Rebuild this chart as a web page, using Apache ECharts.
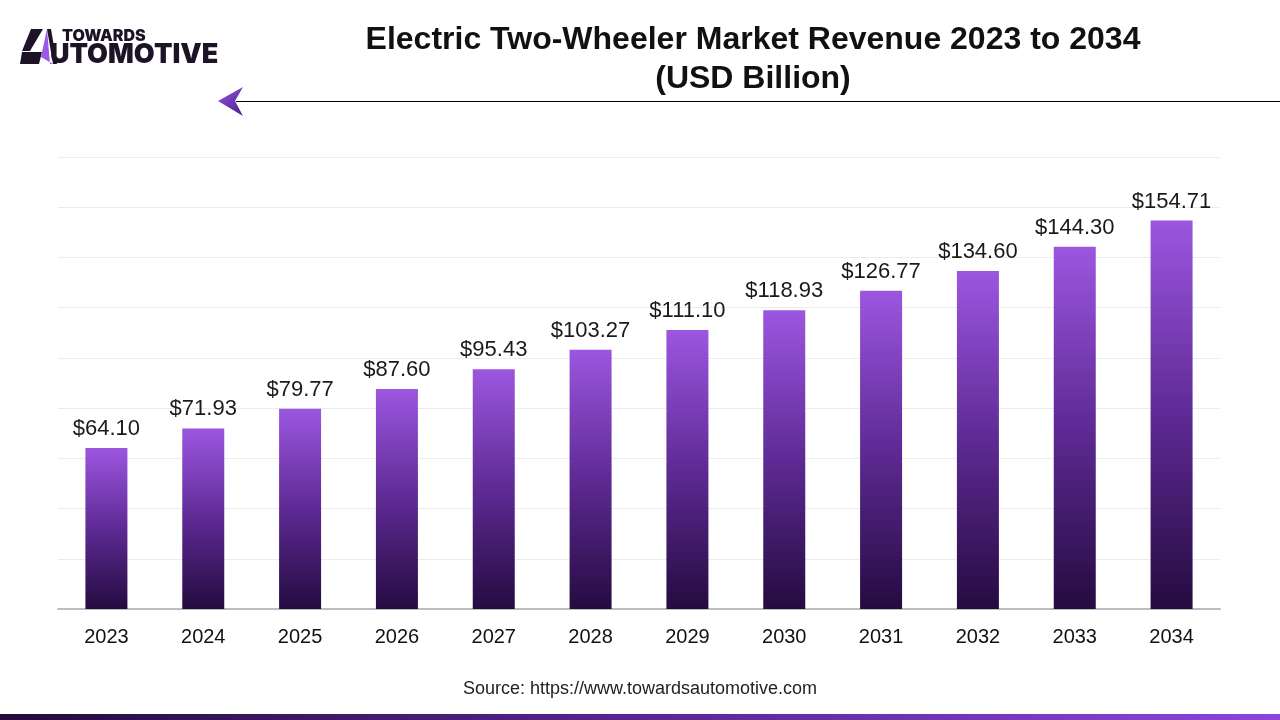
<!DOCTYPE html>
<html>
<head>
<meta charset="utf-8">
<script src="https://cdn.jsdelivr.net/npm/echarts@6/dist/echarts.min.js"></script>
<style>
html,body{margin:0;padding:0;background:#fff;}
#chart{width:1280px;height:720px;}
</style>
</head>
<body>
<div id="chart"></div>
<script>
const categories = ['2023','2024','2025','2026','2027','2028','2029','2030','2031','2032','2033','2034'];
const revenue = [64.10, 71.93, 79.77, 87.60, 95.43, 103.27, 111.10, 118.93, 126.77, 134.60, 144.30, 154.71];
const titleLines = ['Electric Two-Wheeler Market Revenue 2023 to 2034', '(USD Billion)'];
const sourceText = 'Source: https://www.towardsautomotive.com';

const chart = echarts.init(document.getElementById('chart'));
const barGradient = new echarts.graphic.LinearGradient(0, 0, 0, 1, [
  {offset: 0, color: '#9c56e0'},
  {offset: 0.5, color: '#5e2a94'},
  {offset: 1, color: '#250b40'}
]);
chart.setOption({
  animation: false,
  backgroundColor: '#ffffff',
  title: {
    text: titleLines.join('\n'),
    left: 748, top: 16, textAlign: 'center',
    textStyle: {fontFamily: '"Liberation Sans", Arial, sans-serif', fontWeight: 'bold', fontSize: 32, lineHeight: 39, color: '#111'}
  },
  grid: {left: 58, right: 60, top: 157, bottom: 111, containLabel: false},
  xAxis: {
    type: 'category', data: categories,
    axisLine: {lineStyle: {color: '#bdbdbd', width: 2}},
    axisTick: {show: false},
    axisLabel: {color: '#111', fontSize: 20, fontFamily: '"Liberation Sans", Arial, sans-serif', margin: 18}
  },
  yAxis: {
    type: 'value', min: 0, max: 180, interval: 20,
    axisLabel: {show: false}, axisLine: {show: false}, axisTick: {show: false},
    splitLine: {lineStyle: {color: '#ececec', width: 1}}
  },
  series: [{
    type: 'bar', data: revenue, barWidth: 42,
    itemStyle: {color: barGradient},
    label: {show: true, position: 'top', distance: 8, color: '#1a1a1a', fontSize: 22,
      fontFamily: '"Liberation Sans", Arial, sans-serif',
      formatter: p => '$' + p.value.toFixed(2)}
  }],
  graphic: [
    {type: 'polygon', shape: {points: [[31,29],[43,29],[30,51],[22,51]]}, style: {fill: '#1d1326'}},
    {type: 'polygon', shape: {points: [[22,52],[42,52],[39,64],[20,64]]}, style: {fill: '#1d1326'}},
    {type: 'polygon', shape: {points: [[47,29],[41,57],[53,64],[50,64]]}, style: {fill: '#9a5ae6'}},
    {type: 'polygon', shape: {points: [[47,29],[51,29],[57,64],[53,64]]}, style: {fill: '#1d1326'}},
    {type: 'text', left: 62, top: 28, style: {text: 'TOWARDS', fontFamily: 'Inter, "DejaVu Sans", sans-serif', fontWeight: 900, fontSize: 16, fill: '#1d1326'}},
    {type: 'text', left: 50, top: 41, style: {text: 'UTOMOTIVE', fontFamily: 'Inter, "DejaVu Sans", sans-serif', fontWeight: 900, fontSize: 27, fill: '#1d1326'}},
    {type: 'line', shape: {x1: 236, y1: 101.5, x2: 1280, y2: 101.5}, style: {stroke: '#000', lineWidth: 1}},
    {type: 'polygon', shape: {points: [[218,101],[243,87],[235,101],[243,116]]},
      style: {fill: new echarts.graphic.LinearGradient(0, 0, 1, 1, [{offset: 0, color: '#9a55e0'}, {offset: 1, color: '#4a1f8a'}])}},
    {type: 'text', left: 'center', top: 680, style: {text: sourceText, fontFamily: '"Liberation Sans", Arial, sans-serif', fontSize: 18, fill: '#222'}},
    {type: 'rect', shape: {x: 0, y: 714, width: 1280, height: 6},
      style: {fill: new echarts.graphic.LinearGradient(0, 0, 1, 0, [{offset: 0, color: '#230b3c'}, {offset: 0.5, color: '#5a2592'}, {offset: 1, color: '#8c45db'}])}}
  ]
});
</script>
</body>
</html>
